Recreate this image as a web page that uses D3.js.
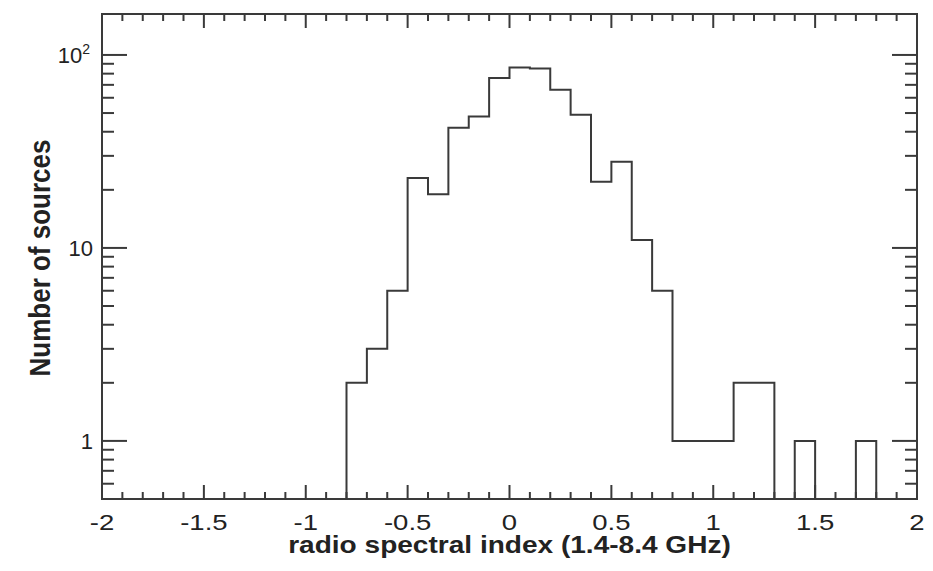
<!DOCTYPE html>
<html>
<head>
<meta charset="utf-8">
<script src="https://cdn.jsdelivr.net/npm/d3@7"></script>
<style>
  body { margin: 0; background: #fff; }
  text { font-family: "Liberation Sans", Arial, Helvetica, sans-serif; fill: #222; }
</style>
</head>
<body>
<div id="chart"></div>
<script>
// bin edges (left edge of each 0.1-wide bin) and counts
const binStarts = [-0.8, -0.7, -0.6, -0.5, -0.4, -0.3, -0.2, -0.1, 0.0, 0.1, 0.2, 0.3, 0.4, 0.5, 0.6, 0.7,
                   0.8, 0.9, 1.0, 1.1, 1.2, 1.3, 1.4, 1.5, 1.6, 1.7];
const counts = [2, 3, 6, 23, 19, 42, 48, 76, 86, 85, 66, 49, 22, 28, 11, 6,
                1, 1, 1, 2, 2, 0, 1, 0, 0, 1];
const binWidth = 0.1;

const xTicks = [-2, -1.5, -1, -0.5, 0, 0.5, 1, 1.5, 2];
const yTicks = [1, 10, 100];

const width = 933;
const height = 571;
const margin = { top: 14, right: 16, bottom: 72, left: 102 };
const stroke = '#3a3a3a';

const svg = d3.select('#chart').append('svg')
  .attr('width', width)
  .attr('height', height);

const x = d3.scaleLinear()
  .domain([-2, 2])
  .range([margin.left, width - margin.right]);

const y = d3.scaleLog()
  .domain([0.5, 163])
  .range([height - margin.bottom, margin.top]);

const x0 = x.range()[0], x1 = x.range()[1];
const y0 = y.range()[0], y1 = y.range()[1];

// minor ticks
const xMinor = d3.range(-20, 21).map((d) => d / 10).filter((d) => !xTicks.some((t) => Math.abs(t - d) < 1e-9));
const yMinor = [];
[0.1, 1, 10, 100].forEach((dec) => {
  for (let k = 2; k <= 9; k++) {
    const v = dec * k;
    if (v >= 0.5 && v <= 163) yMinor.push(v);
  }
});

const ticks = svg.append('g').attr('stroke', stroke).attr('stroke-width', 2);

// x ticks, bottom and top, pointing inward
function xTickLines(vals, len) {
  vals.forEach((v) => {
    ticks.append('line').attr('x1', x(v)).attr('x2', x(v)).attr('y1', y0).attr('y2', y0 - len);
    ticks.append('line').attr('x1', x(v)).attr('x2', x(v)).attr('y1', y1).attr('y2', y1 + len);
  });
}
xTickLines(xTicks, 14);
xTickLines(xMinor, 7);

// y ticks, left and right
function yTickLines(vals, len) {
  vals.forEach((v) => {
    ticks.append('line').attr('y1', y(v)).attr('y2', y(v)).attr('x1', x0).attr('x2', x0 + len);
    ticks.append('line').attr('y1', y(v)).attr('y2', y(v)).attr('x1', x1).attr('x2', x1 - len);
  });
}
yTickLines(yTicks, 25);
yTickLines(yMinor, 12);

// histogram outline (empty bins drop to the bottom of the frame)
const floor = y.domain()[0];
const pts = [];
binStarts.forEach((s, i) => {
  const v = counts[i] > 0 ? counts[i] : floor;
  pts.push([x(s), y(v)]);
  pts.push([x(s + binWidth), y(v)]);
});
pts.unshift([x(binStarts[0]), y(floor)]);
pts.push([x(binStarts[binStarts.length - 1] + binWidth), y(floor)]);

svg.append('path')
  .attr('d', d3.line()(pts))
  .attr('fill', 'none')
  .attr('stroke', stroke)
  .attr('stroke-width', 2);

// frame
svg.append('rect')
  .attr('x', x0).attr('y', y1)
  .attr('width', x1 - x0).attr('height', y0 - y1)
  .attr('fill', 'none')
  .attr('stroke', stroke)
  .attr('stroke-width', 2);

// tick labels (the original lettering is wider than Liberation Sans)
svg.append('g').selectAll('text')
  .data(xTicks)
  .join('text')
  .attr('transform', (d) => `translate(${x(d)}, ${y0 + 31}) scale(1.25, 1)`)
  .attr('text-anchor', 'middle')
  .attr('font-size', 22)
  .text((d) => String(d));

const yl = svg.append('g');
yl.append('text').attr('x', x0 - 9).attr('y', y(1) + 8).attr('text-anchor', 'end').attr('font-size', 22).text('1');
yl.append('text').attr('x', x0 - 9).attr('y', y(10) + 8).attr('text-anchor', 'end').attr('font-size', 22).text('10');
const t100 = yl.append('text').attr('x', x0 - 12).attr('y', y(100) + 8).attr('text-anchor', 'end').attr('font-size', 22);
t100.append('tspan').text('10');
t100.append('tspan').attr('dy', -9).attr('font-size', 14).text('2');

// axis titles
svg.append('text')
  .attr('transform', `translate(${(x0 + x1) / 2}, 553) scale(1.22, 1)`)
  .attr('text-anchor', 'middle')
  .attr('font-size', 23)
  .attr('font-weight', 'bold')
  .text('radio spectral index (1.4-8.4 GHz)');

svg.append('text')
  .attr('transform', `translate(50, 258) scale(1.15, 1) rotate(-90)`)
  .attr('text-anchor', 'middle')
  .attr('font-size', 26)
  .attr('font-weight', 'bold')
  .text('Number of sources');
</script>
</body>
</html>
